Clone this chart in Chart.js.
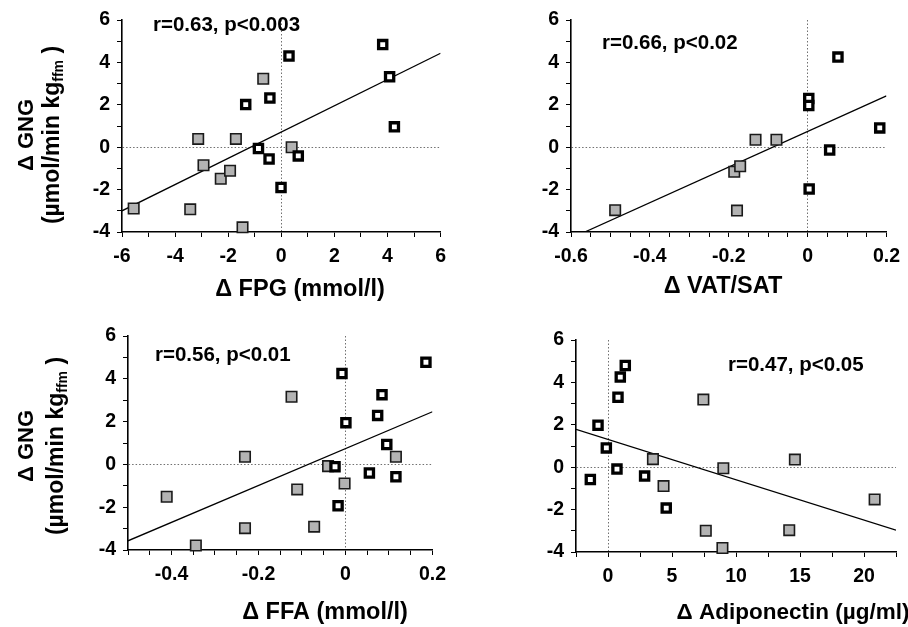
<!DOCTYPE html>
<html><head><meta charset="utf-8">
<script src="https://cdn.jsdelivr.net/npm/chart.js@4/dist/chart.umd.min.js"></script>
<style>
html,body{margin:0;padding:0;background:#fff;}
#wrap{position:relative;width:908px;height:627px;overflow:hidden;background:#fff;}
canvas{position:absolute;display:block;}
</style></head><body>
<div id="wrap">
<canvas id="c1" width="454" height="313" style="left:0;top:0"></canvas>
<canvas id="c2" width="454" height="313" style="left:454px;top:0"></canvas>
<canvas id="c3" width="454" height="314" style="left:0;top:313px"></canvas>
<canvas id="c4" width="454" height="314" style="left:454px;top:313px"></canvas>
</div>
<script>
// ---------- DATA ----------
// Panel 1: Δ FPG vs Δ GNG
const fpgGrayX = [-5.56,-3.43,-3.13,-2.93,-2.28,-1.93,-1.71,-1.46,-0.68,0.39];
const fpgGrayY = [-2.89,-2.93,0.39,-0.85,-1.49,-1.11,0.39,-3.78,3.23,0.0];
const fpgOpenX = [-1.34,-0.43,-0.86,-0.46,-0.01,0.29,0.64,3.82,4.08,4.26];
const fpgOpenY = [2.01,2.32,-0.06,-0.56,-1.90,4.30,-0.41,4.84,3.32,0.96];
const fpgFitX = [-6,6];
const fpgFitY = [-3.0,4.43];
// Panel 2: Δ VAT/SAT vs Δ GNG
const vatGrayX = [-0.488,-0.186,-0.171,-0.179,-0.132,-0.079];
const vatGrayY = [-2.97,-1.16,-0.90,-2.99,0.35,0.35];
const vatOpenX = [0.003,0.003,0.077,0.183,0.056,0.004];
const vatOpenY = [2.30,1.97,4.25,0.91,-0.13,-1.97];
const vatFitX = [-0.565,0.2];
const vatFitY = [-4.0,2.42];
// Panel 3: Δ FFA vs Δ GNG
const ffaGrayX = [-0.411,-0.344,-0.231,-0.231,-0.124,-0.111,-0.072,-0.040,-0.002,0.116];
const ffaGrayY = [-1.51,-3.79,0.36,-2.98,3.16,-1.17,-2.91,-0.08,-0.89,0.36];
const ffaOpenX = [-0.008,0.001,-0.024,-0.017,0.055,0.074,0.084,0.095,0.116,0.185];
const ffaOpenY = [4.25,1.95,-0.11,-1.93,-0.40,2.29,3.26,0.93,-0.58,4.77];
const ffaFitX = [-0.5,0.2];
const ffaFitY = [-3.57,2.46];
// Panel 4: Δ Adiponectin vs Δ GNG
const adiGrayX = [3.51,4.34,7.45,7.64,9.01,8.94,14.16,14.60,20.83];
const adiGrayY = [0.38,-0.89,3.19,-3.00,-0.05,-3.81,-2.97,0.36,-1.52];
const adiOpenX = [-1.38,-0.78,-0.13,0.70,0.78,0.96,1.35,2.86,4.55];
const adiOpenY = [-0.58,1.98,0.91,-0.09,3.30,4.25,4.80,-0.42,-1.93];
const adiFitX = [-2.5,22.5];
const adiFitY = [1.79,-2.97];

// Tick labels
const gngTickLabels = [-4,-2,0,2,4,6];
const fpgTickLabels = [-6,-4,-2,0,2,4,6];
const vatTickLabels = [-0.6,-0.4,-0.2,0,0.2];
const ffaTickLabels = [-0.4,-0.2,0,0.2];
const adiTickLabels = [0,5,10,15,20];

// Annotation / titles
const stats = ['r=0.63, p<0.003','r=0.66, p<0.02','r=0.56, p<0.01','r=0.47, p<0.05'];
const xTitles = ['\u0394 FPG (mmol/l)','\u0394 VAT/SAT','\u0394 FFA (mmol/l)','\u0394 Adiponectin (\u00b5g/ml)'];
const yTitle1 = '\u0394 GNG';
const yTitle2 = ['(\u00b5mol/min kg','ffm',' )'];

// ---------- RENDER ----------
const FAM = '"Liberation Sans", Arial, Helvetica, sans-serif';
const fontStr = s => 'bold ' + s + 'px ' + FAM;
const zip = (xs, ys) => xs.map((x, i) => ({x, y: ys[i]}));

const textPlugin = {
  id: 'txt',
  afterDraw(chart, args, opts) {
    const ctx = chart.ctx;
    (opts.items || []).forEach(it => {
      ctx.save();
      ctx.translate(it.x, it.y);
      if (it.rot) ctx.rotate(it.rot);
      ctx.fillStyle = '#000';
      ctx.textBaseline = 'middle';
      ctx.textAlign = 'left';
      let w = 0;
      it.parts.forEach(p => { ctx.font = fontStr(p.size); w += ctx.measureText(p.t).width; });
      let x = it.align === 'left' ? 0 : -w / 2;
      it.parts.forEach(p => {
        ctx.font = fontStr(p.size);
        ctx.fillText(p.t, x, p.dy || 0);
        x += ctx.measureText(p.t).width;
      });
      ctx.restore();
    });
  }
};

function hasLabel(list, v) {
  return list.some(t => Math.abs(t - v) < 1e-9);
}

function makePanel(id, box, xr, yr, d, items) {
  const canvas = document.getElementById(id);
  const W = canvas.width, H = canvas.height;
  const zeroGrid = c => (c.tick && Math.abs(c.tick.value) < 1e-9) ? '#707070' : 'rgba(0,0,0,0)';
  new Chart(canvas, {
    type: 'scatter',
    data: {
      datasets: [
        { type: 'line', data: zip(d.fitX, d.fitY), showLine: true, borderColor: '#000', borderWidth: 1.3,
          pointRadius: 0, fill: false, order: 3 },
        { data: zip(d.grayX, d.grayY), pointStyle: 'rect', pointRadius: 7.4, backgroundColor: '#b3b3b3',
          borderColor: '#1a1a1a', borderWidth: 1.6, clip: false, order: 2 },
        { data: zip(d.openX, d.openY), pointStyle: 'rect', pointRadius: 5.8, backgroundColor: '#fff',
          borderColor: '#000', borderWidth: 3.3, clip: false, order: 1 }
      ]
    },
    options: {
      responsive: false,
      devicePixelRatio: 1,
      animation: false,
      events: [],
      layout: { padding: { left: 0, top: box.T, right: W - box.R, bottom: 0 } },
      plugins: { legend: { display: false }, tooltip: { enabled: false }, txt: { items } },
      scales: {
        x: {
          type: 'linear', min: xr.min, max: xr.max,
          afterFit: s => { s.height = H - box.B; },
          ticks: { stepSize: xr.step, autoSkip: false, maxRotation: 0, padding: 8, color: '#000',
                   font: { family: FAM, size: 19.5, weight: 'bold' },
                   callback: v => hasLabel(xr.labels, v) ? String(Math.round(v * 100) / 100) : '' },
          grid: { color: zeroGrid, lineWidth: 1, drawTicks: true, tickLength: 5, tickColor: '#000', tickWidth: 1 },
          border: { display: true, color: '#000', width: 1.6, dash: [1.5, 2] }
        },
        y: {
          type: 'linear', min: yr.min, max: yr.max,
          afterFit: s => { s.width = box.L; },
          ticks: { stepSize: yr.step, autoSkip: false, padding: 7, color: '#000',
                   font: { family: FAM, size: 19.5, weight: 'bold' },
                   callback: v => hasLabel(yr.labels, v) ? String(v) : '' },
          grid: { color: zeroGrid, lineWidth: 1, drawTicks: true, tickLength: 5, tickColor: '#000', tickWidth: 1 },
          border: { display: true, color: '#000', width: 1.6, dash: [1.5, 2] }
        }
      }
    },
    plugins: [textPlugin]
  });
}

const yR = { min: -4, max: 6, step: 1, labels: gngTickLabels };
const yTitleItems = (cy, x1, x2) => [
  { x: x1, y: cy, rot: -Math.PI / 2, parts: [{ t: yTitle1, size: 22 }] },
  { x: x2, y: cy, rot: -Math.PI / 2, parts: [{ t: yTitle2[0], size: 23 }, { t: yTitle2[1], size: 14, dy: 6 }, { t: yTitle2[2], size: 23 }] }
];

makePanel('c1', { L: 122, T: 20, R: 442, B: 232 },
  { min: -6, max: 6, step: 1, labels: fpgTickLabels }, yR,
  { grayX: fpgGrayX, grayY: fpgGrayY, openX: fpgOpenX, openY: fpgOpenY, fitX: fpgFitX, fitY: fpgFitY },
  [ { x: 153, y: 25, align: 'left', parts: [{ t: stats[0], size: 20.5 }] },
    { x: 300, y: 290, parts: [{ t: xTitles[0], size: 23.5 }] },
    ...yTitleItems(135, 27, 53) ]);

makePanel('c2', { L: 117, T: 20, R: 437, B: 232 },
  { min: -0.6, max: 0.2, step: 0.05, labels: vatTickLabels }, yR,
  { grayX: vatGrayX, grayY: vatGrayY, openX: vatOpenX, openY: vatOpenY, fitX: vatFitX, fitY: vatFitY },
  [ { x: 148, y: 43, align: 'left', parts: [{ t: stats[1], size: 20.5 }] },
    { x: 269, y: 287, parts: [{ t: xTitles[1], size: 23.5 }] } ]);

makePanel('c3', { L: 128, T: 23, R: 449, B: 237 },
  { min: -0.5, max: 0.2, step: 0.05, labels: ffaTickLabels }, yR,
  { grayX: ffaGrayX, grayY: ffaGrayY, openX: ffaOpenX, openY: ffaOpenY, fitX: ffaFitX, fitY: ffaFitY },
  [ { x: 155, y: 42, align: 'left', parts: [{ t: stats[2], size: 20.5 }] },
    { x: 325, y: 300, parts: [{ t: xTitles[2], size: 23.5 }] },
    ...yTitleItems(133, 27, 57) ]);

makePanel('c4', { L: 122, T: 27, R: 442, B: 239 },
  { min: -2.5, max: 22.5, step: 2.5, labels: adiTickLabels }, yR,
  { grayX: adiGrayX, grayY: adiGrayY, openX: adiOpenX, openY: adiOpenY, fitX: adiFitX, fitY: adiFitY },
  [ { x: 274, y: 52, align: 'left', parts: [{ t: stats[3], size: 20.5 }] },
    { x: 339, y: 300, parts: [{ t: xTitles[3], size: 22.5 }] } ]);
</script>
</body></html>
